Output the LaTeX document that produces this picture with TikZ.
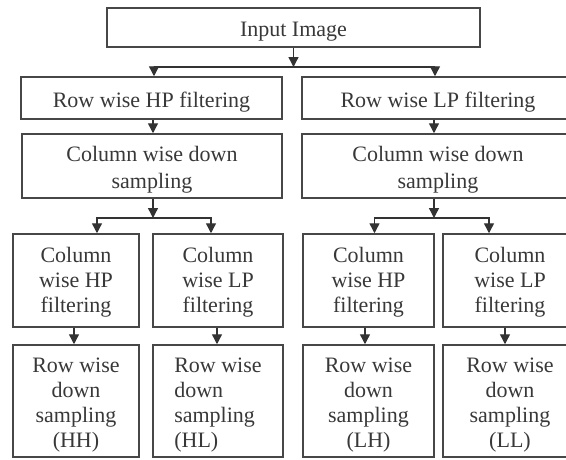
\documentclass[tikz,border=0pt]{standalone}
\usepackage{fontspec}
\setmainfont{Liberation Serif}
\usetikzlibrary{arrows.meta}

% strut that lowers each label a little inside its frame
\newcommand\lowstrut{\rule{0pt}{23pt}}

\tikzset{
  box/.style={draw=black!72, line width=1.5pt, inner sep=0pt, align=center,
    text=black!78, font=\fontsize{22}{25}\selectfont},
  arr/.style={draw=black!80, line width=1.4pt,
    -{Triangle[width=10pt,length=10pt]}},
  link/.style={draw=black!80, line width=1.4pt}
}

\begin{document}
\begin{tikzpicture}[x=1pt,y=-1pt]
  \useasboundingbox (0,0) rectangle (566,459);
  \clip (0,0) rectangle (566,459);

  % stage 1: source
  \node[box, minimum width=373pt, minimum height=39pt] (in) at (293.5,27.5) {\lowstrut Input Image};

  % stage 2: row filtering
  \node[box, minimum width=261pt, minimum height=42pt] (rhp) at (151.5,98) {\lowstrut Row wise HP filtering};
  \node[box, minimum width=272pt, minimum height=42pt] (rlp) at (438,98) {\lowstrut Row wise LP filtering};

  % stage 3: column down sampling
  \node[box, minimum width=260pt, minimum height=64pt] (cdl) at (152,166) {\lowstrut Column wise down\\[1.5pt]sampling};
  \node[box, minimum width=272pt, minimum height=64pt] (cdr) at (438,166) {\lowstrut Column wise down\\[1.5pt]sampling};

  % stage 4: column filtering
  \node[box, minimum width=126pt, minimum height=93pt] (chh) at (76,280.5) {\rule{0pt}{19pt}Column\\wise HP\\filtering};
  \node[box, minimum width=130pt, minimum height=93pt] (chl) at (218,280.5) {\rule{0pt}{19pt}Column\\wise LP\\filtering};
  \node[box, minimum width=131pt, minimum height=93pt] (clh) at (368.5,280.5) {\rule{0pt}{19pt}Column\\wise HP\\filtering};
  \node[box, minimum width=134pt, minimum height=93pt] (cll) at (510,280.5) {\rule{0pt}{19pt}Column\\wise LP\\filtering};

  % stage 5: row down sampling (sub-bands)
  \node[box, minimum width=126pt, minimum height=112pt] (hh) at (76,401) {\lowstrut Row wise\\down\\sampling\\(HH)};
  \node[box, minimum width=130pt, minimum height=112pt, align=left] (hl) at (218,401) {\lowstrut Row wise\\down\\sampling\\(HL)};
  \node[box, minimum width=131pt, minimum height=112pt] (lh) at (368.5,401) {\lowstrut Row wise\\down\\sampling\\(LH)};
  \node[box, minimum width=134pt, minimum height=112pt] (ll) at (510,401) {\lowstrut Row wise\\down\\sampling\\(LL)};

  % branch points
  \coordinate (j1) at (293.5,67);
  \coordinate (j2) at (153,218);
  \coordinate (j3) at (434,218);

  % connectors
  \draw[arr] (in.south) -- (j1);
  \draw[arr] (j1) -| ([xshift=2.5pt]rhp.north);
  \draw[arr] (j1) -| ([xshift=-3pt]rlp.north);

  \draw[arr] ([xshift=1.5pt]rhp.south) -- ([xshift=1pt]cdl.north);
  \draw[arr] ([xshift=-4pt]rlp.south) -- ([xshift=-4pt]cdr.north);

  \draw[arr] ([xshift=1pt]cdl.south) -- (j2);
  \draw[arr] ([xshift=-4pt]cdr.south) -- (j3);
  \draw[arr] (j2) -| ([xshift=21pt]chh.north);
  \draw[arr] (j2) -| ([xshift=-7pt]chl.north);
  \draw[arr] (j3) -| ([xshift=6pt]clh.north);
  \draw[arr] (j3) -| ([xshift=-21pt]cll.north);

  \draw[arr] ([xshift=-2pt]chh.south) -- ([xshift=-2pt]hh.north);
  \draw[arr] ([xshift=-1pt]chl.south) -- ([xshift=-1pt]hl.north);
  \draw[arr] ([xshift=-3.5pt]clh.south) -- ([xshift=-3.5pt]lh.north);
  \draw[arr] ([xshift=-5pt]cll.south) -- ([xshift=-5pt]ll.north);
\end{tikzpicture}
\end{document}
